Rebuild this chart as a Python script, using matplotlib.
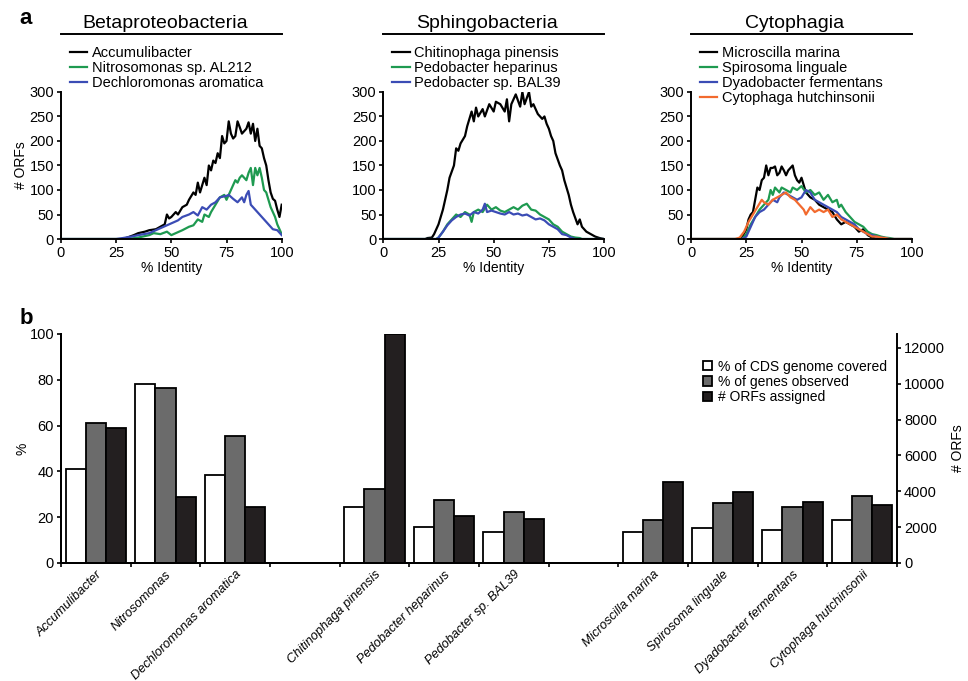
import numpy as np
import matplotlib
matplotlib.use("Agg")
import matplotlib.pyplot as plt
from matplotlib.patches import Patch

plt.rcParams['font.family'] = ['Liberation Sans', 'DejaVu Sans']

# ---- panel a: ORF counts per % identity bin ----
# Betaproteobacteria
accum_x = [0, 28, 30, 33, 35, 38, 40, 43, 45, 47, 48, 49, 50, 52, 53, 55, 57, 58, 60, 61, 62, 63, 65, 66, 67, 68, 69,
           70, 71, 72, 73, 74, 75, 76, 77, 78, 79, 80, 81, 82, 83, 84, 85, 86, 87, 88, 89, 90, 91, 92, 93, 94, 95, 96,
           97, 98, 99, 100]
accum_y = [0, 0, 3, 8, 12, 15, 18, 20, 25, 30, 50, 42, 45, 55, 50, 65, 70, 80, 95, 90, 115, 95, 125, 110, 150, 140, 160,
           155, 175, 165, 210, 195, 200, 240, 215, 205, 210, 240, 228, 215, 220, 225, 238, 215, 235, 200, 225, 190, 185,
           165, 150, 120, 95, 82, 78, 60, 45, 70]
nitro_x = [0, 30, 35, 40, 42, 45, 48, 50, 52, 55, 58, 60, 62, 64, 65, 67, 68, 70, 72, 74, 75, 77, 79, 80, 81, 82, 84,
           85, 86, 87, 88, 89, 90, 91, 92, 93, 95, 97, 98, 99, 100]
nitro_y = [0, 0, 3, 8, 12, 10, 15, 8, 12, 18, 25, 28, 40, 35, 50, 45, 55, 70, 85, 90, 80, 100, 120, 115, 125, 130, 120,
           135, 145, 110, 145, 130, 145, 125, 100, 95, 65, 45, 30, 20, 10]
dechl_x = [0, 25, 28, 32, 35, 40, 45, 48, 50, 53, 55, 58, 60, 62, 64, 66, 68, 70, 72, 75, 76, 78, 80, 82, 83, 84, 85,
           86, 88, 90, 92, 94, 96, 98, 100]
dechl_y = [0, 0, 2, 5, 8, 12, 22, 28, 32, 38, 45, 50, 55, 48, 65, 60, 70, 75, 85, 88, 90, 82, 75, 85, 75, 90, 98, 70,
           60, 50, 40, 30, 20, 18, 8]

# Sphingobacteria
chit_x = [0, 19, 20, 22, 23, 25, 27, 29, 30, 32, 33, 34, 35, 37, 38, 40, 41, 42, 43, 45, 46, 48, 50, 51, 53, 55, 56,
          57, 58, 60, 62, 63, 64, 66, 67, 68, 70, 72, 73, 74, 75, 76, 77, 78, 80, 81, 82, 84, 85, 86, 88, 89, 90, 92,
          94, 96, 98, 100]
chit_y = [0, 0, 2, 3, 10, 30, 60, 100, 125, 150, 185, 180, 195, 210, 230, 260, 240, 268, 250, 265, 250, 275, 260, 280,
          275, 260, 285, 240, 275, 295, 270, 300, 275, 300, 270, 275, 255, 245, 250, 235, 225, 210, 200, 175, 150, 140,
          120, 90, 70, 55, 30, 40, 25, 15, 10, 5, 2, 0]
pedhep_x = [0, 24, 25, 27, 29, 31, 33, 35, 37, 39, 40, 41, 43, 45, 47, 49, 51, 53, 55, 57, 59, 61, 63, 65, 67, 69, 71,
            73, 75, 77, 79, 81, 83, 85, 87, 89, 90, 100]
pedhep_y = [0, 0, 3, 15, 30, 40, 50, 45, 55, 50, 35, 55, 60, 55, 70, 60, 65, 58, 55, 60, 65, 60, 68, 72, 60, 58, 50,
            45, 40, 30, 25, 15, 10, 5, 3, 2, 0, 0]
pedbal_x = [0, 24, 25, 27, 29, 31, 33, 35, 37, 39, 41, 43, 45, 46, 47, 49, 51, 53, 55, 57, 59, 61, 63, 65, 67, 69, 71,
            73, 75, 77, 79, 81, 83, 85, 87, 100]
pedbal_y = [0, 0, 3, 15, 28, 38, 45, 50, 52, 48, 55, 52, 60, 72, 55, 58, 55, 52, 50, 55, 50, 52, 48, 50, 45, 40, 42,
            38, 30, 25, 20, 10, 8, 3, 0, 0]

# Cytophagia
micro_x = [0, 22, 23, 25, 26, 27, 28, 29, 30, 31, 32, 33, 34, 35, 36, 37, 38, 39, 40, 41, 42, 43, 44, 45, 46, 47, 48,
           49, 50, 51, 52, 54, 56, 58, 60, 62, 64, 66, 68, 70, 72, 74, 76, 78, 80, 82, 84, 100]
micro_y = [0, 0, 3, 20, 40, 50, 55, 80, 105, 100, 120, 125, 150, 130, 145, 145, 148, 130, 135, 148, 140, 130, 140, 145,
           150, 130, 120, 115, 125, 110, 95, 85, 80, 70, 65, 60, 55, 40, 30, 35, 30, 25, 15, 20, 8, 3, 0, 0]
spiro_x = [0, 23, 25, 27, 29, 31, 33, 35, 36, 37, 38, 40, 41, 43, 45, 46, 48, 50, 52, 54, 56, 58, 60, 62, 64, 66, 67,
           68, 70, 72, 74, 76, 78, 80, 82, 84, 86, 88, 90, 92, 100]
spiro_y = [0, 0, 10, 30, 45, 60, 70, 80, 100, 90, 105, 95, 105, 100, 95, 105, 100, 108, 95, 100, 90, 95, 80, 90, 75,
           80, 65, 70, 55, 45, 35, 30, 25, 15, 10, 8, 5, 3, 2, 0, 0]
dyado_x = [0, 23, 25, 27, 29, 31, 33, 35, 37, 39, 40, 42, 44, 46, 48, 50, 52, 54, 56, 58, 60, 62, 64, 66, 68, 70, 72,
           74, 76, 78, 80, 82, 84, 86, 88, 90, 100]
dyado_y = [0, 0, 5, 25, 45, 55, 60, 70, 80, 75, 85, 95, 90, 85, 80, 85, 100, 95, 80, 75, 70, 65, 60, 55, 45, 40, 35,
           30, 20, 15, 10, 8, 5, 3, 2, 0, 0]
cytoh_x = [0, 20, 22, 24, 26, 28, 30, 32, 33, 35, 37, 39, 41, 43, 45, 47, 49, 51, 52, 54, 56, 58, 60, 62, 64, 66, 68,
           70, 72, 74, 76, 78, 80, 82, 84, 86, 88, 90, 100]
cytoh_y = [0, 0, 3, 15, 35, 50, 65, 80, 75, 70, 80, 85, 90, 95, 85, 80, 70, 60, 50, 65, 55, 60, 55, 60, 45, 50, 40,
           35, 30, 25, 20, 15, 10, 5, 5, 3, 2, 0, 0]

# ---- panel b ----
organisms = ['Accumulibacter', 'Nitrosomonas', 'Dechloromonas aromatica',
             'Chitinophaga pinensis', 'Pedobacter heparinus', 'Pedobacter sp. BAL39',
             'Microscilla marina', 'Spirosoma linguale', 'Dyadobacter fermentans', 'Cytophaga hutchinsonii']
group_sizes = [3, 3, 4]
cds_covered = [41, 78, 38.5, 24.5, 15.5, 13.4, 13.4, 15.1, 14.3, 18.8]
genes_observed = [61, 76.5, 55.5, 32.5, 27.5, 22.4, 18.8, 26.2, 24.6, 29.4]
orfs_assigned = [7550, 3700, 3150, 12780, 2640, 2470, 4500, 3980, 3405, 3220]

GREEN = '#1e9a50'
BLUE = '#3b4cb5'
ORANGE = '#f26a2e'
FS = 10

fig = plt.figure(figsize=(9.68, 6.81), dpi=100)

panels = [
    ('Betaproteobacteria', 0.063,
     [(accum_x, accum_y, 'k', 'Accumulibacter'),
      (nitro_x, nitro_y, GREEN, 'Nitrosomonas sp. AL212'),
      (dechl_x, dechl_y, BLUE, 'Dechloromonas aromatica')]),
    ('Sphingobacteria', 0.396,
     [(chit_x, chit_y, 'k', 'Chitinophaga pinensis'),
      (pedhep_x, pedhep_y, GREEN, 'Pedobacter heparinus'),
      (pedbal_x, pedbal_y, BLUE, 'Pedobacter sp. BAL39')]),
    ('Cytophagia', 0.714,
     [(micro_x, micro_y, 'k', 'Microscilla marina'),
      (spiro_x, spiro_y, GREEN, 'Spirosoma linguale'),
      (dyado_x, dyado_y, BLUE, 'Dyadobacter fermentans'),
      (cytoh_x, cytoh_y, ORANGE, 'Cytophaga hutchinsonii')]),
]

for i, (title, left, series) in enumerate(panels):
    ax = fig.add_axes([left, 0.649, 0.228, 0.216])
    for xs, ys, col, lab in series:
        ax.plot(xs, ys, color=col, lw=1.6, label=lab)
    ax.set_xlim(0, 100)
    ax.set_ylim(0, 300)
    ax.set_xticks([0, 25, 50, 75, 100])
    ax.set_yticks(np.arange(0, 301, 50))
    for s in ['top', 'right']:
        ax.spines[s].set_visible(False)
    for s in ['left', 'bottom']:
        ax.spines[s].set_linewidth(1.4)
    ax.tick_params(direction='out', length=3, width=1.2, labelsize=FS + 0.5, pad=2)
    ax.set_xlabel('% Identity', fontsize=FS, labelpad=1)
    if i == 0:
        ax.set_ylabel('# ORFs', fontsize=FS, labelpad=1)
    ax.plot([0, 1], [1.395, 1.395], color='k', lw=1.4, transform=ax.transAxes, clip_on=False)
    ax.text(0.47, 1.41, title, transform=ax.transAxes, ha='center', va='bottom', fontsize=14)
    ax.legend(loc='upper left', bbox_to_anchor=(0.04, 1.31), frameon=False, fontsize=10.5,
              handlelength=1.2, handletextpad=0.3, labelspacing=0.06, borderpad=0, borderaxespad=0)

fig.text(0.02, 0.973, 'a', fontsize=16, fontweight='bold', va='center')
fig.text(0.02, 0.532, 'b', fontsize=16, fontweight='bold', va='center')

# bar chart
axb = fig.add_axes([0.063, 0.1733, 0.8636, 0.3363])
slots = []
pos = 0
for g in group_sizes:
    slots.extend(range(pos, pos + g))
    pos += g + 1
slots = np.array(slots)
n_slots = pos - 1
w = 0.29

axb.bar(slots - w, cds_covered, w, color='white', edgecolor='k', lw=1.3)
axb.bar(slots, genes_observed, w, color='#6b6b6b', edgecolor='k', lw=1.3)
axb.set_xlim(-0.5, n_slots - 0.5)
axb.set_ylim(0, 100)
axb.set_yticks(np.arange(0, 101, 20))
axb.set_ylabel('%', fontsize=FS, labelpad=0)

ax2 = axb.twinx()
ax2.bar(slots + w, orfs_assigned, w, color='#231f20', edgecolor='k', lw=1.3)
ax2.set_ylim(0, 12780)
ax2.set_yticks(np.arange(0, 12001, 2000))
ax2.set_ylabel('# ORFs', fontsize=FS, labelpad=4)

for a in (axb, ax2):
    a.spines['top'].set_visible(False)
    for s in ['left', 'bottom', 'right']:
        a.spines[s].set_linewidth(1.4)
    a.tick_params(axis='y', direction='out', length=3, width=1.2, labelsize=FS + 0.5, pad=2)
axb.spines['right'].set_visible(False)

axb.set_xticks(slots)
axb.set_xticklabels(organisms, rotation=45, ha='right', rotation_mode='anchor', fontsize=9.2, style='italic')
axb.tick_params(axis='x', which='major', length=0, pad=4)
axb.set_xticks(np.arange(-0.5, n_slots, 1.0), minor=True)
axb.tick_params(axis='x', which='minor', direction='out', length=3, width=1.2)

handles = [Patch(facecolor='white', edgecolor='k', lw=1.3),
           Patch(facecolor='#6b6b6b', edgecolor='k', lw=1.3),
           Patch(facecolor='#231f20', edgecolor='k', lw=1.3)]
ax2.legend(handles, ['% of CDS genome covered', '% of genes observed', '# ORFs assigned'],
           loc='upper left', bbox_to_anchor=(0.768, 0.888), frameon=False, fontsize=FS,
           handlelength=0.65, handleheight=0.65, handletextpad=0.45, labelspacing=0.1,
           borderpad=0, borderaxespad=0)

fig.savefig('out.png', dpi=100)
